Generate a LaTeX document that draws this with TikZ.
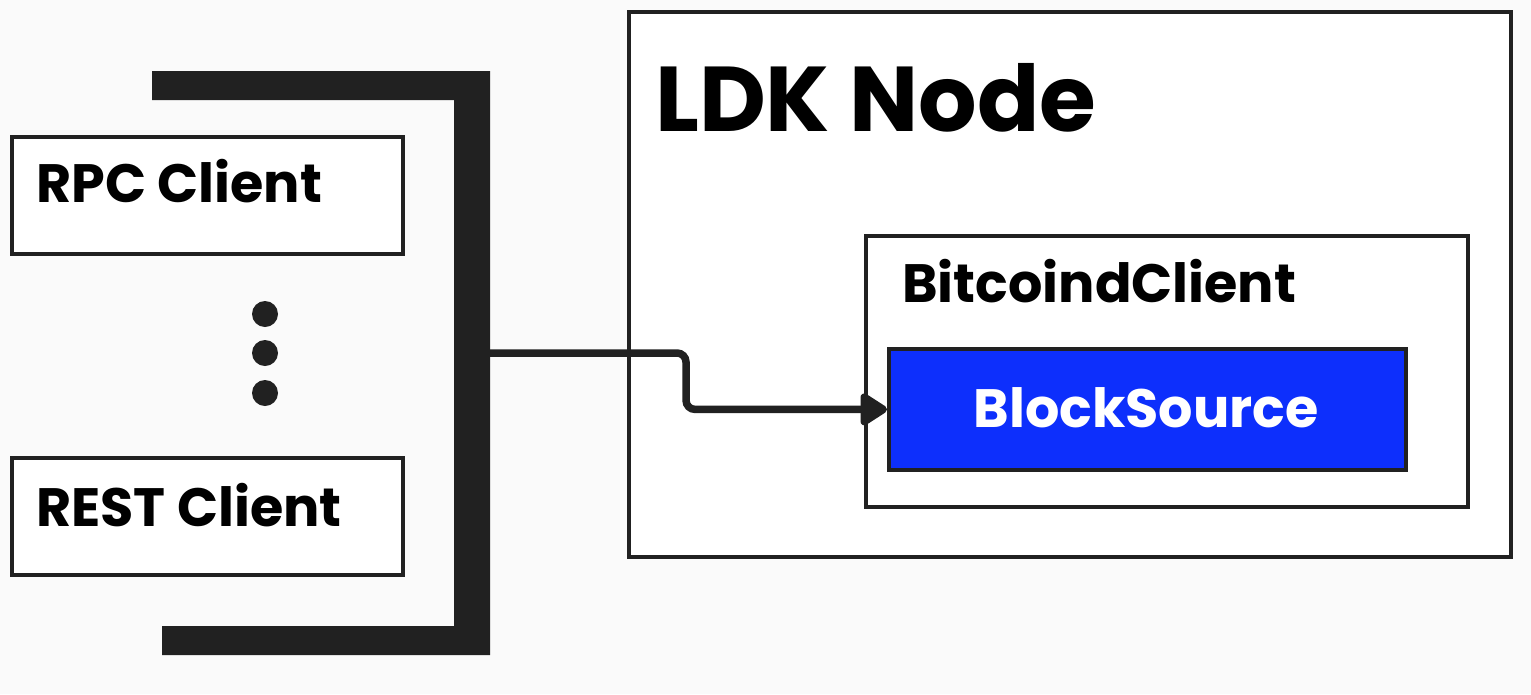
\documentclass[tikz,border=0pt]{standalone}
\usepackage{fontspec}
\setmainfont{Poppins}
\usetikzlibrary{arrows.meta}
\definecolor{bg}{HTML}{FAFAFA}
\definecolor{ink}{HTML}{212121}
\definecolor{bsblue}{HTML}{0D2FFC}
\tikzset{
  box/.style={draw=ink, line width=3.8pt, fill=white, inner sep=0pt, anchor=north west},
  lbl/.style={inner sep=0pt, anchor=base west, font=\fontsize{54}{58}\selectfont\bfseries},
  conn/.style={draw=ink, line width=7.5pt, rounded corners=9pt, -{Triangle[length=30pt,width=36pt,round]}},
  dot/.style={circle, fill=ink, minimum size=26pt, inner sep=0pt},
}
\begin{document}
\begin{tikzpicture}[x=1pt,y=-1pt]
\fill[bg] (0,0) rectangle (1531,694);
\useasboundingbox (0,0) rectangle (1531,694);
% left clients
\node[box, minimum width=391pt, minimum height=117pt] (rpc) at (10,135) {};
\node[lbl] (rpct) at (36,202) {RPC Client};
\node[box, minimum width=391pt, minimum height=117pt] (rest) at (10,456) {};
\node[lbl] (restt) at (36,526) {REST Client};
\node[dot] (d1) at (265,314) {};
\node[dot] (d2) at (265,353) {};
\node[dot] (d3) at (265,393) {};
% bracket
\fill[ink] (152,71) -- (490,71) -- (490,655) -- (162,655) -- (162,626) -- (454,626) -- (454,100) -- (152,100) -- cycle;
\coordinate (brk) at (490,353);
% LDK node
\node[box, minimum width=882pt, minimum height=545pt] (ldk) at (627,10) {};
\node[lbl, font=\fontsize{92}{96}\selectfont\bfseries] (ldkt) at (655,131) {LDK Node};
\node[box, minimum width=602pt, minimum height=271pt] (btc) at (864,234) {};
\node[lbl] (btct) at (902,302) {BitcoindClient};
\node[box, fill=bsblue, minimum width=517pt, minimum height=121pt] (bs) at (887,347) {};
\node[lbl, text=white, anchor=base] (bst) at (1146,427) {BlockSource};
% connector
\draw[conn] (brk) -- ++(196,0) |- (bs.west);
\end{tikzpicture}
\end{document}
